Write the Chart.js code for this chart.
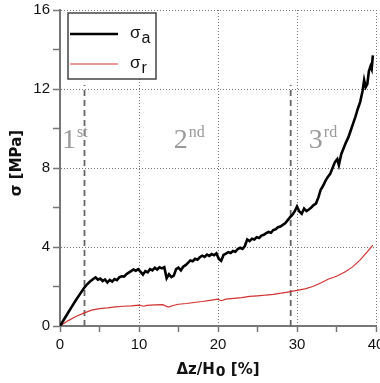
<!DOCTYPE html>
<html>
<head>
<meta charset="utf-8">
<script src="https://cdn.jsdelivr.net/npm/chart.js@4/dist/chart.umd.min.js"></script>
<style>
  html, body { margin: 0; padding: 0; background: #fff; }
  #wrap { width: 380px; height: 383px; }
</style>
</head>
<body>
<div id="wrap"><canvas id="c" width="380" height="383"></canvas></div>
<script>
// ---------- data ----------
const axialStrain = [0,0.5,1,1.5,2,2.5,3,3.4,3.8,4.2,4.5,4.8,5.1,5.4,5.7,6.0,6.3,6.6,6.9,7.2,7.5,7.8,8.1,8.4,8.7,9.0,9.3,9.6,9.9,10.2,10.5,10.8,11.1,11.4,11.7,12.0,12.3,12.6,12.9,13.2,13.5,13.8,14.1,14.4,14.7,15.0,15.3,15.6,15.9,16.2,16.5,16.8,17.1,17.4,17.7,18.0,18.3,18.6,18.9,19.2,19.5,19.8,20.1,20.4,20.7,21.0,21.3,21.6,21.9,22.2,22.5,22.8,23.1,23.4,23.7,24.0,24.3,24.6,24.9,25.2,25.5,25.8,26.1,26.4,26.7,27.0,27.3,27.6,27.9,28.2,28.5,28.8,29.1,29.4,29.7,30.0,30.3,30.6,30.9,31.2,31.5,31.8,32.1,32.4,32.7,33.0,33.3,33.6,33.9,34.2,34.5,34.8,35.1,35.3,35.6,35.9,36.2,36.5,36.8,37.1,37.4,37.7,38.0,38.3,38.5,38.7,38.9,39.1,39.3,39.45,39.6];
const axialStress = [0,0.33,0.66,0.98,1.3,1.6,1.9,2.1,2.25,2.38,2.46,2.34,2.4,2.28,2.36,2.2,2.33,2.25,2.38,2.32,2.46,2.52,2.5,2.62,2.7,2.78,2.86,2.8,2.88,2.74,2.6,2.78,2.72,2.88,2.82,2.95,2.86,2.97,2.92,2.98,2.42,2.62,2.48,2.55,2.88,2.95,2.82,3.0,3.08,3.2,3.32,3.28,3.4,3.36,3.48,3.56,3.5,3.62,3.55,3.64,3.58,3.68,3.4,3.3,3.6,3.66,3.74,3.7,3.8,3.76,3.9,3.96,3.9,4.05,4.38,4.3,4.42,4.38,4.5,4.46,4.58,4.62,4.7,4.76,4.72,4.86,4.9,5.0,5.04,5.12,5.2,5.35,5.5,5.62,5.8,6.05,5.8,5.68,5.95,5.82,5.9,6.0,6.12,6.2,6.5,6.9,7.1,7.35,7.55,7.7,8.0,8.3,8.45,8.15,8.7,9.0,9.3,9.55,9.9,10.25,10.6,11.0,11.35,11.9,12.45,12.1,12.25,12.9,13.15,13.0,13.7];

const radialStrain = [0,1,2,3,4,5,6,7,8,9,10,10.6,11,12,13,13.7,14.3,15,16,17,18,19,20,20.4,21,22,23,24,25,26,27,28,29,30,31,32,33,34,35,36,37,38,39,39.6];
const radialStress = [0,0.26,0.48,0.65,0.8,0.88,0.92,0.97,1.0,1.02,1.06,1.0,1.04,1.07,1.08,0.96,1.04,1.1,1.14,1.19,1.24,1.3,1.36,1.28,1.36,1.4,1.44,1.5,1.53,1.56,1.6,1.66,1.73,1.8,1.88,2.0,2.18,2.38,2.52,2.72,2.98,3.35,3.8,4.1];

const phaseBounds = [3.1, 29.2];   // dashed separators (x)
const phaseTop = 12.2;             // dashed lines stop here (y)
const phaseNames = [['1', 'st'], ['2', 'nd'], ['3', 'rd']];
const legendNames = [['σ', 'a'], ['σ', 'r']];

const xTicks = [0, 10, 20, 30, 40];
const yTicks = [0, 4, 8, 12, 16];

const pts = (xs, ys) => xs.map((x, i) => ({ x, y: ys[i] }));

// ---------- helpers ----------
function subText(ctx, x, y, main, sub, font, subFont, drop) {
  ctx.font = font;
  ctx.fillText(main, x, y);
  const w = ctx.measureText(main).width;
  ctx.font = subFont;
  ctx.fillText(sub, x + w + 1, y + drop);
}

// annotations, legend, axis titles
const decor = {
  id: 'decor',
  afterDatasetsDraw(chart) {
    const { ctx, scales: { x, y }, chartArea: a } = chart;
    ctx.save();

    // phase labels
    ctx.fillStyle = '#9a9a9a';
    ctx.textBaseline = 'alphabetic';
    ctx.textAlign = 'left';
    const labelAt = [0.25, 14.4, 31.5];
    phaseNames.forEach(([n, s], i) => {
      const px = x.getPixelForValue(labelAt[i]);
      const py = y.getPixelForValue(9.0);
      ctx.font = '28px "Liberation Serif", serif';
      ctx.fillText(n, px, py);
      const w = ctx.measureText(n).width;
      ctx.font = '16px "Liberation Serif", serif';
      ctx.fillText(s, px + w + 1, py - 11);
    });

    // legend box
    const lx = 68, ly = 13, lw = 88, lh = 66;
    ctx.fillStyle = '#fff';
    ctx.fillRect(lx, ly, lw, lh);
    ctx.strokeStyle = '#444';
    ctx.lineWidth = 1.5;
    ctx.strokeRect(lx, ly, lw, lh);
    chart.data.datasets.slice(0, 2).forEach((ds, i) => {
      const yy = ly + 21 + i * 30;
      ctx.strokeStyle = ds.borderColor;
      ctx.lineWidth = ds.borderWidth;
      ctx.beginPath();
      ctx.moveTo(lx + 2, yy);
      ctx.lineTo(lx + 50, yy);
      ctx.stroke();
      ctx.fillStyle = '#111';
      subText(ctx, lx + 62, yy + 4, legendNames[i][0], legendNames[i][1],
        '17px "Liberation Sans", Arial, sans-serif', '16px "Liberation Sans", Arial, sans-serif', 5);
    });

    // axis titles
    ctx.fillStyle = '#111';
    ctx.textAlign = 'left';
    const bold = 'bold 15px "DejaVu Sans", Verdana, sans-serif';
    const boldSm = 'bold 14px "DejaVu Sans", Verdana, sans-serif';
    // x title
    ctx.font = bold;
    const w1 = ctx.measureText('Δz/H').width;
    ctx.font = boldSm;
    const w2 = ctx.measureText('0').width;
    ctx.font = bold;
    const w3 = ctx.measureText(' [%]').width;
    let sx = (a.left + a.right) / 2 - (w1 + w2 + w3 + 1) / 2;
    const by = 374;
    ctx.fillText('Δz/H', sx, by);
    ctx.font = boldSm;
    ctx.fillText('0', sx + w1 + 1, by + 2);
    ctx.font = bold;
    ctx.fillText(' [%]', sx + w1 + w2 + 1, by);
    // y title
    ctx.translate(21, 163);
    ctx.rotate(-Math.PI / 2);
    ctx.textAlign = 'center';
    ctx.fillText('σ [MPa]', 0, 0);

    ctx.restore();
  }
};

const gridColor = (ctx, majors) =>
  (majors.includes(ctx.tick.value) && ctx.tick.value !== 0) ? '#777' : 'rgba(0,0,0,0)';

new Chart(document.getElementById('c'), {
  type: 'line',
  data: {
    datasets: [
      { data: pts(axialStrain, axialStress), borderColor: '#000', borderWidth: 2.6, pointRadius: 0, tension: 0, order: 1 },
      { data: pts(radialStrain, radialStress), borderColor: '#d23232', borderWidth: 1.2, pointRadius: 0, tension: 0, order: 2 },
      { data: [{ x: phaseBounds[0], y: 0 }, { x: phaseBounds[0], y: phaseTop }], borderColor: '#666', borderWidth: 1.8, borderDash: [6, 4], pointRadius: 0, order: 3 },
      { data: [{ x: phaseBounds[1], y: 0 }, { x: phaseBounds[1], y: phaseTop }], borderColor: '#666', borderWidth: 1.8, borderDash: [6, 4], pointRadius: 0, order: 3 },
    ]
  },
  options: {
    responsive: false,
    animation: false,
    devicePixelRatio: 1,
    layout: { padding: { top: 10, right: 4, left: 0, bottom: 0 } },
    plugins: { legend: { display: false }, tooltip: { enabled: false } },
    scales: {
      x: {
        type: 'linear', min: 0, max: 40,
        ticks: {
          stepSize: 5, maxRotation: 0, padding: 4,
          color: '#111', font: { size: 15, family: '"Liberation Sans", Arial, sans-serif' },
          callback: v => xTicks.includes(v) ? String(v) : ''
        },
        grid: {
          color: c => gridColor(c, xTicks), lineWidth: 1,
          tickColor: '#777', tickLength: 6, tickWidth: 1.5
        },
        border: { color: '#777', width: 2, dash: [1, 2] },
        afterFit: s => { s.height = 57; s.paddingLeft = 0; s.paddingRight = 0; }
      },
      y: {
        type: 'linear', min: 0, max: 16,
        ticks: {
          stepSize: 2, padding: 3,
          color: '#111', font: { size: 15, family: '"Liberation Sans", Arial, sans-serif' },
          callback: v => yTicks.includes(v) ? String(v) : ''
        },
        grid: {
          color: c => gridColor(c, yTicks), lineWidth: 1,
          tickColor: '#777', tickLength: 7, tickWidth: 1.5
        },
        border: { color: '#777', width: 2, dash: [1, 2] },
        afterFit: s => { s.width = 60; s.paddingTop = 0; s.paddingBottom = 0; }
      }
    }
  },
  plugins: [decor]
});
</script>
</body>
</html>
